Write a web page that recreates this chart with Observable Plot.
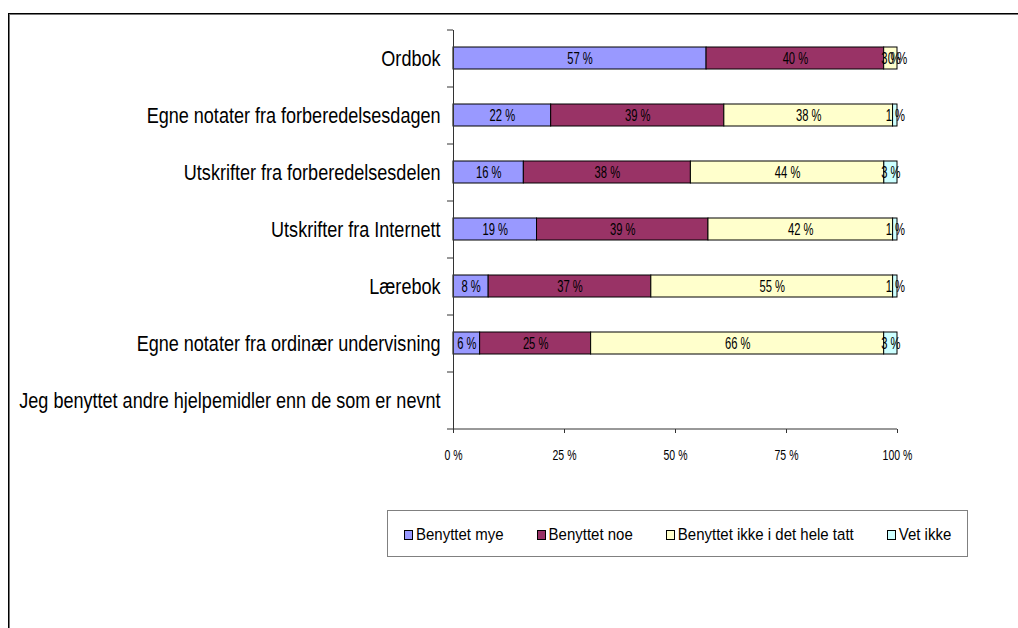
<!DOCTYPE html>
<html>
<head>
<meta charset="utf-8">
<script src="https://cdn.jsdelivr.net/npm/d3@7"></script>
<script src="https://cdn.jsdelivr.net/npm/@observablehq/plot@0.6"></script>
<style>
  html, body { margin: 0; padding: 0; background: #fff; width: 1018px; height: 628px; overflow: hidden; }
  #frame { position: absolute; left: 8px; top: 13px; width: 1200px; height: 800px;
           border-left: 1px solid #000; border-top: 1px solid #000; box-shadow: inset 1px 1px 0 #777; }
  #chart { position: absolute; left: 0; top: 0; }
  #legend { position: absolute; left: 387px; top: 510px; width: 581px; height: 47px; box-sizing: border-box;
            border: 1px solid #808080; display: flex; align-items: center; padding-left: 16px; gap: 33px;
            font-family: 'Liberation Sans', Arial, sans-serif; font-size: 15px; color: #000; }
  #legend .item { display: flex; align-items: center; white-space: nowrap; }
  #legend .sw { width: 7px; height: 8px; border: 1px solid #000; margin-right: 3px; margin-top: 2px; }
  #legend .lab { display: inline-block; transform: scaleY(1.1); }
</style>
</head>
<body>
<div id="frame"></div>
<div id="chart"></div>
<div id="legend"></div>
<script>
const categories = [
  "Ordbok",
  "Egne notater fra forberedelsesdagen",
  "Utskrifter fra forberedelsesdelen",
  "Utskrifter fra Internett",
  "Lærebok",
  "Egne notater fra ordinær undervisning",
  "Jeg benyttet andre hjelpemidler enn de som er nevnt"
];
const seriesNames = ["Benyttet mye", "Benyttet noe", "Benyttet ikke i det hele tatt", "Vet ikke"];
const seriesColors = ["#9999FF", "#993366", "#FFFFCC", "#CCFFFF"];
const benyttetMye  = [57, 22, 16, 19, 8, 6, null];
const benyttetNoe  = [40, 39, 38, 39, 37, 25, null];
const benyttetIkke = [3, 38, 44, 42, 55, 66, null];
const vetIkke      = [0, 1, 3, 1, 1, 3, null];
const xTicks = [0, 0.25, 0.5, 0.75, 1];

const seriesValues = [benyttetMye, benyttetNoe, benyttetIkke, vetIkke];
const rows = [];
categories.forEach((cat, i) => {
  seriesNames.forEach((s, j) => {
    const v = seriesValues[j][i];
    if (v != null) rows.push({cat, series: s, value: v});
  });
});

const W = 1018, H = 470, mL = 453, mR = 121, mT = 30, mB = 41;
const plotH = H - mT - mB, plotW = W - mL - mR;
const step = plotH / categories.length;
const tickFrac = 6 / plotW;

const stackOpts = {y: "cat", x: "value", z: "series", offset: "normalize"};

const chart = Plot.plot({
  width: W, height: H,
  marginLeft: mL, marginRight: mR, marginTop: mT, marginBottom: mB,
  style: {fontFamily: "'Liberation Sans', Arial, sans-serif", background: "transparent", color: "#000"},
  x: {domain: [0, 1]},
  y: {domain: categories, paddingInner: 0.61, paddingOuter: 0.305},
  color: {domain: seriesNames, range: seriesColors},
  marks: [
    Plot.barX(rows, Plot.stackX({...stackOpts, fill: "series", stroke: "#000", strokeWidth: 1})),
    Plot.text(rows, Plot.stackX({...stackOpts, text: d => `${d.value} %`, fontSize: 16, fill: "#000"})),
    Plot.ruleX([0], {stroke: "#333", strokeWidth: 1}),
    Plot.ruleY([categories[categories.length - 1]], {x1: 0, x2: 1, dy: step / 2, stroke: "#333"}),
    Plot.ruleY(categories, {x1: -tickFrac, x2: 0, dy: -step / 2, stroke: "#333"}),
    Plot.ruleY([categories[categories.length - 1]], {x1: -tickFrac, x2: 0, dy: step / 2, stroke: "#333"}),
    Plot.axisY({tickSize: 0, tickPadding: 13, fontSize: 22, label: null}),
    Plot.axisX({ticks: xTicks, tickFormat: d => `${Math.round(d * 100)} %`, tickSize: 4, tickPadding: 16, fontSize: 15, label: null, stroke: "#333"})
  ]
});
document.getElementById("chart").appendChild(chart);

function squeeze(sel, f) {
  chart.querySelectorAll(sel).forEach(t => {
    const L = t.getComputedTextLength();
    t.setAttribute("textLength", L * f);
    t.setAttribute("lengthAdjust", "spacingAndGlyphs");
  });
}
squeeze('g[aria-label="y-axis tick label"] text', 0.82);
squeeze('g[aria-label="x-axis tick label"] text', 0.7);
squeeze('g[aria-label="text"] text', 0.7);

const legend = document.getElementById("legend");
seriesNames.forEach((s, i) => {
  const it = document.createElement("div");
  it.className = "item";
  const sw = document.createElement("span");
  sw.className = "sw";
  sw.style.background = seriesColors[i];
  const lab = document.createElement("span");
  lab.className = "lab";
  lab.textContent = s;
  it.appendChild(sw); it.appendChild(lab);
  legend.appendChild(it);
});
</script>
</body>
</html>
